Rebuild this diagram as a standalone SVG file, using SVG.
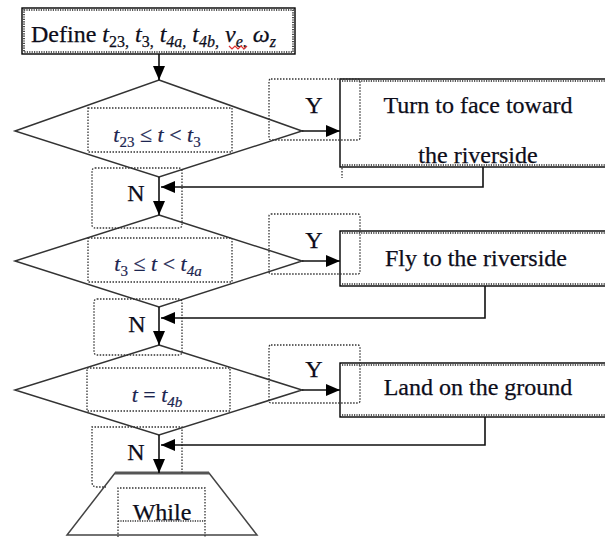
<svg xmlns="http://www.w3.org/2000/svg" width="605" height="537" viewBox="0 0 605 537">
<style>
  .t { font-family: "Liberation Serif", "Times New Roman", serif; font-size: 24px; fill: #0d0d1a; stroke: #0d0d1a; stroke-width: 0.25; }
  .m { font-family: "Liberation Serif", "Times New Roman", serif; font-size: 22px; fill: #1c2550; stroke: #1c2550; stroke-width: 0.2; }
  .i { font-style: italic; }
  .dot { fill: none; stroke: #333; stroke-width: 1.3; stroke-dasharray: 1.5 1.5; }
  .box { fill: #fff; stroke: #000; stroke-width: 1.4; }
  .inner { fill: none; stroke: #222; stroke-width: 1.6; stroke-dasharray: 1.2 1.2; }
  .dia { fill: #fff; stroke: #333; stroke-width: 1.5; }
  .ln { fill: none; stroke: #111; stroke-width: 1.6; }
</style>
<defs>
  <marker id="ah" viewBox="0 0 14 12" refX="14" refY="6" markerWidth="14" markerHeight="12" markerUnits="userSpaceOnUse" orient="auto">
    <path d="M0,0 L14,6 L0,12 Z" fill="#000"/>
  </marker>
</defs>
<rect width="605" height="537" fill="#fff"/>

<g id="start">
  <rect class="box" x="22" y="8" width="273" height="46"/>
  <rect class="inner" x="24" y="10" width="269" height="42"/>
  <text class="t" x="31" y="42">Define <tspan class="i">t</tspan><tspan font-size="16" dy="5">23,</tspan><tspan dy="-5"> </tspan><tspan class="i">t</tspan><tspan font-size="16" dy="5">3,</tspan><tspan dy="-5"> </tspan><tspan class="i">t</tspan><tspan font-size="16" dy="5" class="i">4a,</tspan><tspan dy="-5"> </tspan><tspan class="i">t</tspan><tspan font-size="16" dy="5" class="i">4b,</tspan><tspan dy="-5"> </tspan><tspan class="i">v</tspan><tspan font-size="16" dy="5" class="i">e,</tspan><tspan dy="-5">  </tspan><tspan class="i">ω</tspan><tspan font-size="16" dy="5" class="i">z</tspan></text>
  <path d="M229,46 l3,3 l3,-3 l3,3 l3,-3 l3,3 l3,-3" fill="none" stroke="#e03030" stroke-width="1.2"/>
</g>

<g id="cond1">
  <polygon class="dia" points="159,80 302,131 159,177 15,131"/>
  <rect class="dot" x="88" y="108" width="144" height="44"/>
  <text class="m" x="157" y="142" text-anchor="middle"><tspan class="i">t</tspan><tspan font-size="15" dy="5">23</tspan><tspan dy="-5"> ≤ </tspan><tspan class="i">t</tspan> &lt; <tspan class="i">t</tspan><tspan font-size="15" dy="5">3</tspan></text>
</g>

<g id="cond2">
  <polygon class="dia" points="159,215 302,261 159,307 15,261"/>
  <rect class="dot" x="88" y="238" width="144" height="44"/>
  <text class="m" x="158" y="271" text-anchor="middle"><tspan class="i">t</tspan><tspan font-size="15" dy="5">3</tspan><tspan dy="-5"> ≤ </tspan><tspan class="i">t</tspan> &lt; <tspan class="i">t</tspan><tspan font-size="15" dy="5" class="i">4a</tspan></text>
</g>

<g id="cond3">
  <polygon class="dia" points="159,345 302,390 159,435 15,390"/>
  <rect class="dot" x="87" y="368" width="143" height="43"/>
  <text class="m" x="157" y="402" text-anchor="middle"><tspan class="i">t</tspan> = <tspan class="i">t</tspan><tspan font-size="15" dy="5" class="i">4b</tspan></text>
</g>

<g id="act1">
  <rect class="box" x="340" y="79" width="280" height="88"/>
  <path class="inner" d="M342,81 H620 M342,165 H620"/>
  <text class="t" x="478" y="113" text-anchor="middle">Turn to face toward</text>
  <text class="t" x="478" y="163" text-anchor="middle">the riverside</text>
</g>

<g id="act2">
  <rect class="box" x="340" y="231" width="280" height="55"/>
  <path class="inner" d="M342,233 H620 M342,284 H620"/>
  <text class="t" x="476" y="266" text-anchor="middle">Fly to the riverside</text>
</g>

<g id="act3">
  <rect class="box" x="340" y="363" width="280" height="54"/>
  <path class="inner" d="M342,365 H620 M342,415 H620"/>
  <text class="t" x="478" y="395" text-anchor="middle">Land on the ground</text>
</g>

<g id="end">
  <polygon points="115,473 209,473 257,535 67,535" fill="#fff" stroke="#444" stroke-width="1.5"/>
  <line x1="115" y1="473" x2="209" y2="473" stroke="#555" stroke-width="3"/>
  <path class="dot" d="M118,540 V488 H205 V540"/>
  <line x1="118" y1="521" x2="205" y2="521" stroke="#333" stroke-width="1.6" stroke-dasharray="1.2 1.2"/>
  <text class="t" x="162" y="520" text-anchor="middle">While</text>
</g>

<g id="labels">
  <rect class="dot" x="269" y="79" width="91" height="61" rx="2"/>
  <text class="t" x="314" y="113" text-anchor="middle">Y</text>
  <rect class="dot" x="269" y="214" width="91" height="60" rx="2"/>
  <text class="t" x="314" y="248" text-anchor="middle">Y</text>
  <rect class="dot" x="269" y="345" width="91" height="58" rx="2"/>
  <text class="t" x="314" y="377" text-anchor="middle">Y</text>
  <rect class="dot" x="92" y="168" width="90" height="60" rx="3"/>
  <text class="t" x="136" y="201" text-anchor="middle">N</text>
  <rect class="dot" x="94" y="299" width="88" height="56" rx="3"/>
  <text class="t" x="137" y="332" text-anchor="middle">N</text>
  <path class="dot" d="M182,473 V427 H92 V482 Q92,487 97,487 H106"/>
  <text class="t" x="136" y="460" text-anchor="middle">N</text>
  <line class="dot" x1="342" y1="168" x2="342" y2="178"/>
</g>

<g id="connectors">
  <line class="ln" x1="159" y1="54" x2="159" y2="80" marker-end="url(#ah)"/>
  <line class="ln" x1="302" y1="131" x2="340" y2="131" marker-end="url(#ah)"/>
  <line class="ln" x1="159" y1="177" x2="159" y2="215" marker-end="url(#ah)"/>
  <polyline class="ln" points="483,167 483,187 161,187" marker-end="url(#ah)"/>
  <line class="ln" x1="302" y1="261" x2="340" y2="261" marker-end="url(#ah)"/>
  <line class="ln" x1="159" y1="307" x2="159" y2="345" marker-end="url(#ah)"/>
  <polyline class="ln" points="485,286 485,318 161,318" marker-end="url(#ah)"/>
  <line class="ln" x1="302" y1="390" x2="340" y2="390" marker-end="url(#ah)"/>
  <line class="ln" x1="159" y1="435" x2="159" y2="473" marker-end="url(#ah)"/>
  <polyline class="ln" points="485,417 485,445 161,445" marker-end="url(#ah)"/>
</g>
</svg>
